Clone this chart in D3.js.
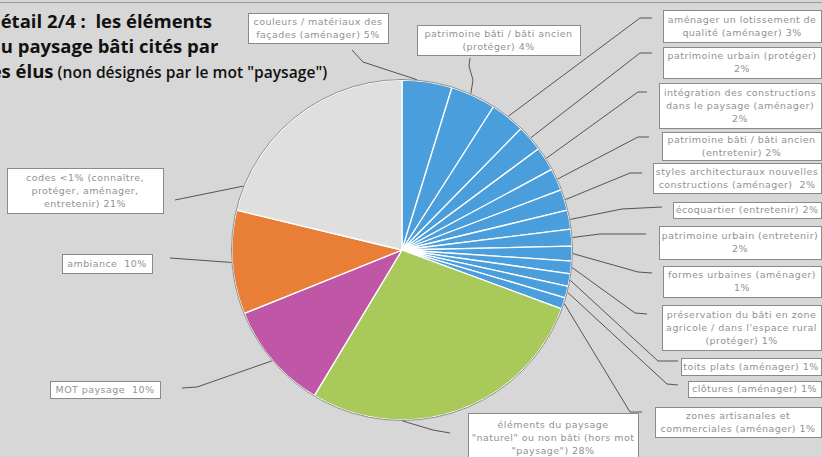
<!DOCTYPE html>
<html lang="fr">
<head>
<meta charset="UTF-8">
<title>Détail 2/4 : les éléments du paysage bâti cités par les élus</title>
<script src="https://d3js.org/d3.v7.min.js"></script>
<style>
  body { margin: 0; padding: 0; background: #d7d7d7; }
  svg { display: block; }
  text { white-space: pre; }
  .title { font-family: "Open Sans", sans-serif; font-weight: 700; fill: #111; }
  .lbl { font-family: "DejaVu Sans", sans-serif; font-size: 9.5px; letter-spacing: 0.45px; fill: #929292; text-anchor: middle; }
  .box { fill: #fff; stroke: #8a8a8a; stroke-width: 1; }
  .leader { fill: none; stroke: #555; stroke-width: 1; }
</style>
</head>
<body>
<svg id="chart" width="822" height="457"></svg>
<script>
// slices, clockwise from 12 o'clock
const categories = [
  "couleurs / matériaux des façades (aménager)",
  "patrimoine bâti / bâti ancien (protéger)",
  "aménager un lotissement de qualité (aménager)",
  "patrimoine urbain (protéger)",
  "intégration des constructions dans le paysage (aménager)",
  "patrimoine bâti / bâti ancien (entretenir)",
  "styles architecturaux nouvelles constructions (aménager)",
  "écoquartier (entretenir)",
  "patrimoine urbain (entretenir)",
  "formes urbaines (aménager)",
  "préservation du bâti en zone agricole / dans l'espace rural (protéger)",
  "toits plats (aménager)",
  "clôtures (aménager)",
  "zones artisanales et commerciales (aménager)",
  "éléments du paysage \"naturel\" ou non bâti (hors mot \"paysage\")",
  "MOT paysage",
  "ambiance",
  "codes <1% (connaître, protéger, aménager, entretenir)"
];
const values = [4.75, 4.3, 3.3, 2.5, 2.3, 2.1, 2.0, 1.8, 1.6, 1.4, 1.2, 1.2, 1.1, 1.1, 28, 10.3, 9.85, 21.25];
const groups = ["bati","bati","bati","bati","bati","bati","bati","bati","bati","bati","bati","bati","bati","bati","naturel","mot","ambiance","codes"];
// label text, as printed in the boxes
const labelLines = [
  ["couleurs / matériaux des", "façades (aménager) 5%"],
  ["patrimoine bâti / bâti ancien", "(protéger) 4%"],
  ["aménager un lotissement de", "qualité (aménager) 3%"],
  ["patrimoine urbain (protéger)", "2%"],
  ["intégration des constructions", "dans le paysage (aménager)", "2%"],
  ["patrimoine bâti / bâti ancien", "(entretenir) 2%"],
  ["styles architecturaux nouvelles", "constructions (aménager)  2%"],
  ["écoquartier (entretenir) 2%"],
  ["patrimoine urbain (entretenir)", "2%"],
  ["formes urbaines (aménager)", "1%"],
  ["préservation du bâti en zone", "agricole / dans l'espace rural", "(protéger) 1%"],
  ["toits plats (aménager) 1%"],
  ["clôtures (aménager) 1%"],
  ["zones artisanales et", "commerciales (aménager) 1%"],
  ["éléments du paysage", "\"naturel\" ou non bâti (hors mot", "\"paysage\") 28%"],
  ["MOT paysage  10%"],
  ["ambiance  10%"],
  ["codes <1% (connaître,", "protéger, aménager,", "entretenir) 21%"]
];

const colors = { bati: "#4a9edc", naturel: "#a9c95b", mot: "#c056a6", ambiance: "#e97f36", codes: "#dfdfdf" };

// where each label box sits and how its leader line runs (at = position inside the slice)
const layout = [
  { at: 0.29, box: [248, 13, 140, 30], via: [[363, 62], [352, 50]] },
  { at: 0.43, box: [417, 25, 163, 30], via: [[473, 80], [469, 66], [470, 58]] },
  { box: [663, 10, 158, 32], via: [[640, 18], [652, 18]] },
  { box: [663, 47, 158, 31], via: [[640, 53], [652, 53]] },
  { box: [659, 83, 162, 45], via: [[638, 92], [647, 92]] },
  { box: [662, 132, 159, 28], via: [[638, 137], [649, 137]] },
  { box: [653, 163, 168, 30], via: [[630, 173], [642, 173]] },
  { box: [673, 202, 148, 16], via: [[622, 209], [662, 207]] },
  { box: [659, 226, 162, 33], via: [[600, 234], [646, 234]] },
  { box: [663, 266, 158, 31], via: [[638, 272], [652, 273]] },
  { box: [662, 305, 159, 45], via: [[635, 313], [647, 314]] },
  { box: [681, 358, 140, 17], via: [[658, 361], [678, 361]] },
  { box: [688, 381, 133, 16], via: [[667, 384], [678, 385]] },
  { box: [655, 407, 166, 30], via: [[630, 412], [642, 412]] },
  { at: 0.69, box: [468, 413, 170, 50], via: [[433, 430], [450, 433]] },
  { box: [50, 381, 110, 17], via: [[197, 387], [182, 388]] },
  { box: [62, 254, 90, 19], via: [[170, 258]] },
  { at: 0.11, box: [7, 168, 156, 45], via: [[175, 200]] }
];

const W = 822, H = 457;
const cx = 402, cy = 250, r = 170;

const svg = d3.select("#chart");
svg.append("rect").attr("width", W).attr("height", H).attr("fill", "#d7d7d7");
svg.append("line").attr("x1", 0).attr("x2", W).attr("y1", 2.5).attr("y2", 2.5)
  .attr("stroke", "#9a9a9a").attr("stroke-width", 1);

// title (left part is cut off in the original)
const title = svg.append("g").attr("class", "title");
title.append("text").attr("x", -13).attr("y", 28).attr("font-size", 18.5).text("Détail 2/4 :  les éléments");
title.append("text").attr("x", -11).attr("y", 53).attr("font-size", 18.5).text("du paysage bâti cités par");
const t3 = title.append("text").attr("x", -15).attr("y", 78);
t3.append("tspan").attr("font-size", 18.5).text("les élus");
t3.append("tspan").attr("font-size", 15.6).attr("font-weight", 600).text(" (non désignés par le mot \"paysage\")");

const pie = d3.pie().sort(null).value(d => d)(values);
const arc = d3.arc().innerRadius(0).outerRadius(r);

const g = svg.append("g").attr("transform", `translate(${cx},${cy})`);
g.selectAll("path.slice")
  .data(pie)
  .join("path")
  .attr("class", "slice")
  .attr("d", arc)
  .attr("fill", (d, i) => colors[groups[i]])
  .attr("stroke", "#fff")
  .attr("stroke-width", 1.3)
  .attr("stroke-linejoin", "round");

g.append("circle").attr("r", r + 0.5).attr("fill", "none").attr("stroke", "#8c8c8c").attr("stroke-width", 1);

// leaders
const line = d3.line();
layout.forEach((L, i) => {
  const p = pie[i];
  const f = L.at === undefined ? 0.5 : L.at;
  const a = p.startAngle + f * (p.endAngle - p.startAngle);
  const start = [cx + (r + 1) * Math.sin(a), cy - (r + 1) * Math.cos(a)];
  svg.append("path").attr("class", "leader").attr("d", line([start, ...L.via]));
});

// label boxes
layout.forEach((L, i) => {
  const [x, y, w, h] = L.box;
  const lg = svg.append("g");
  lg.append("rect").attr("class", "box").attr("x", x + 0.5).attr("y", y + 0.5).attr("width", w).attr("height", h);
  const lines = labelLines[i];
  const lh = 13;
  // the green box runs off the bottom edge, so its text starts from the top
  const top = i === 14 ? y + 12 : y + h / 2 - (lines.length - 1) * lh / 2;
  lines.forEach((s, k) => {
    lg.append("text").attr("class", "lbl")
      .attr("x", x + w / 2).attr("y", top + k * lh + 3.4)
      .text(s);
  });
});
</script>
</body>
</html>
